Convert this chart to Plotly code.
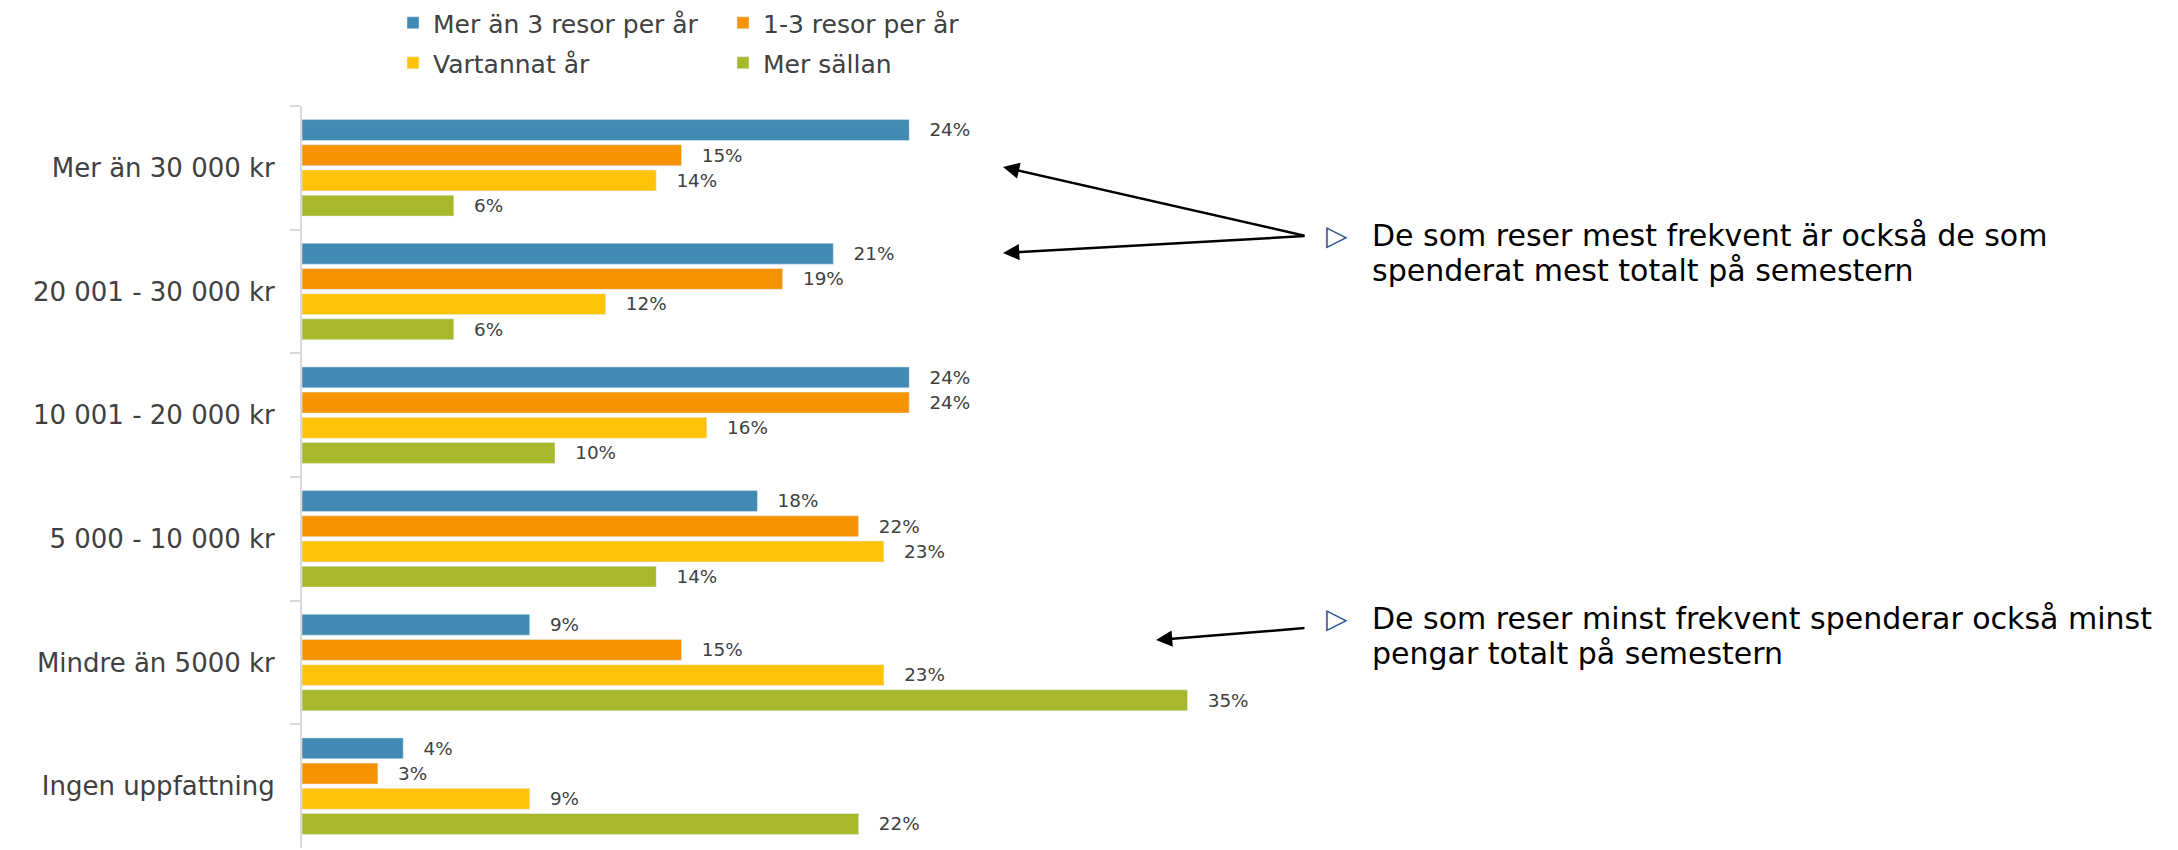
import plotly.graph_objects as go

# the page body adds an 8px margin, so the figure is a little smaller
# and every screen position below is shifted by OFF
OFF = 8
W, H = 2178 - OFF, 850 - OFF

categories = [
    "Mer än 30 000 kr",
    "20 001 - 30 000 kr",
    "10 001 - 20 000 kr",
    "5 000 - 10 000 kr",
    "Mindre än 5000 kr",
    "Ingen uppfattning",
]
series_names = [
    "Mer än 3 resor per år",
    "1-3 resor per år",
    "Vartannat år",
    "Mer sällan",
]
mer_an_3 = [24, 21, 24, 18, 9, 4]
ett_tre = [15, 19, 24, 22, 15, 3]
vartannat = [14, 12, 16, 23, 23, 9]
mer_sallan = [6, 6, 10, 14, 35, 22]

COLORS = ["#418AB3", "#F59300", "#FEC306", "#A7B92A"]
FONT = "DejaVu Sans, sans-serif"
GREY = "#404040"

# plot area in screen pixels
L, R, T, B = 302 - OFF, 1314 - OFF, 106 - OFF, 848 - OFF


def px_x(x):
    return (x - OFF - L) / (R - L)


def px_y(y):
    return (B - (y - OFF)) / (B - T)


fig = go.Figure()
for i, (name, vals) in enumerate(
    zip(series_names, [mer_an_3, ett_tre, vartannat, mer_sallan])
):
    fig.add_trace(
        go.Bar(
            y=categories,
            x=vals,
            name=name,
            orientation="h",
            marker_color=COLORS[i],
            text=[f"\u2007\u2009\u200a{v}%" for v in vals],
            textposition="outside",
            textfont=dict(family=FONT, size=22, color=GREY),
            cliponaxis=False,
            legend="legend" if i < 2 else "legend2",
        )
    )

legend_common = dict(
    orientation="h",
    xref="container",
    yref="container",
    x=(393 - OFF) / W,
    xanchor="left",
    yanchor="middle",
    entrywidth=285,
    font=dict(family=FONT, size=25, color=GREY),
)

fig.update_layout(
    width=W,
    height=H,
    margin=dict(l=L, r=W - R, t=T, b=H - B, autoexpand=False),
    paper_bgcolor="white",
    plot_bgcolor="white",
    barmode="group",
    bargap=0.185,
    bargroupgap=0.17,
    font=dict(family=FONT, color=GREY),
    xaxis=dict(
        range=[0, 40],
        visible=False,
        showgrid=False,
        zeroline=False,
    ),
    yaxis=dict(
        autorange="reversed",
        automargin=False,
        showline=True,
        linecolor="#D9D9D9",
        linewidth=2,
        ticks="outside",
        tickson="boundaries",
        ticklen=10,
        tickwidth=2,
        tickcolor="#D9D9D9",
        tickfont=dict(family=FONT, size=26, color=GREY),
        ticklabelstandoff=20,
        showgrid=False,
    ),
    legend=dict(legend_common, y=1 - (23 - OFF) / H),
    legend2=dict(legend_common, y=1 - (63 - OFF) / H),
)

# callouts on the right
notes = [
    (236, 270, ["De som reser mest frekvent är också de som",
                "spenderat mest totalt på semestern"]),
    (618, 653, ["De som reser minst frekvent spenderar också minst",
                "pengar totalt på semestern"]),
]
for y1, y2, lines in notes:
    fig.add_annotation(
        x=px_x(1337), y=px_y(y1), xref="paper", yref="paper",
        text="▷", showarrow=False, xanchor="center", yanchor="middle",
        font=dict(family="DejaVu Sans", size=28, color="#2F5597"),
    )
    for yy, line in zip((y1, y2), lines):
        fig.add_annotation(
            x=px_x(1370), y=px_y(yy), xref="paper", yref="paper",
            text=line, showarrow=False, xanchor="left", yanchor="middle",
            align="left",
            font=dict(family=FONT, size=30, color="black"),
        )

arrows = [
    (1003, 167, 1306, 236),
    (1003, 253, 1306, 236),
    (1156, 640, 1306, 628),
]
for hx, hy, tx, ty in arrows:
    fig.add_annotation(
        x=px_x(hx), y=px_y(hy), xref="paper", yref="paper",
        ax=tx - hx, ay=ty - hy, text="", showarrow=True,
        arrowhead=2, arrowsize=1.3, arrowwidth=2.5, arrowcolor="black",
    )

fig.write_html("out.html")
